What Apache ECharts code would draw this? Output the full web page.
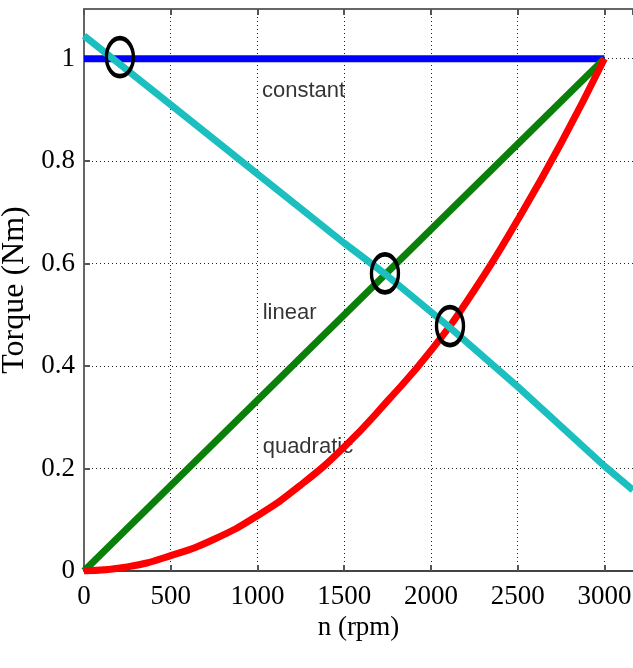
<!DOCTYPE html>
<html><head><meta charset="utf-8">
<script src="https://cdn.jsdelivr.net/npm/echarts@6/dist/echarts.min.js"></script>
<style>html,body{margin:0;padding:0;background:#fff}#c{width:633px;height:668px}</style>
</head><body><div id="c"></div>
<script>
// ---- data ----
const xTickStep = 500;
const yTickStep = 0.2;
const constantPts = [[0, 1], [3000, 1]];
const linearPts = [[0, 0], [3000, 1]];
const quadraticPts = [[0, 0], [250, 0.008], [500, 0.03], [750, 0.062], [1000, 0.108], [1250, 0.168],
  [1500, 0.242], [1750, 0.332], [2000, 0.43], [2250, 0.548], [2500, 0.685], [2750, 0.835], [3000, 1.0]];
const loadPts = [[0, 1.045], [500, 0.91], [1000, 0.775], [1500, 0.64], [1735, 0.58], [2110, 0.475],
  [2500, 0.36], [3000, 0.205], [3165, 0.158]];
const circlePts = [[207, 1.003], [1735, 0.581], [2110, 0.478]];
const labelNames = ['constant', 'linear', 'quadratic'];
const labelPts = [[1026, 0.937], [1030, 0.503], [1030, 0.242]];

const chart = echarts.init(document.getElementById('c'), null, {renderer: 'canvas'});
const serif = 'Liberation Serif, Times New Roman, serif';
const axisGray = '#555';
const gridDots = {show: true, lineStyle: {color: '#222', width: 1, type: [1, 3]}};

chart.setOption({
  animation: false,
  backgroundColor: '#fff',
  grid: {left: 84, top: 9, right: 0, bottom: 97, containLabel: false, outerBoundsMode: 'none'},
  xAxis: [{
    type: 'value', min: 0, max: 3165, interval: xTickStep, position: 'bottom',
    name: 'n (rpm)', nameLocation: 'middle', nameGap: 32,
    nameTextStyle: {fontFamily: serif, fontSize: 27, color: '#000'},
    axisLine: {show: true, onZero: false, lineStyle: {color: '#444', width: 2}},
    axisTick: {show: true, inside: true, length: 6, lineStyle: {color: axisGray, width: 2}},
    axisLabel: {fontFamily: serif, fontSize: 27, color: '#000', margin: 12, showMaxLabel: false,
      formatter: v => String(v)},
    splitLine: gridDots
  }, {
    type: 'value', min: 0, max: 3165, interval: xTickStep, position: 'top',
    axisLine: {show: true, onZero: false, lineStyle: {color: '#666', width: 2}},
    axisTick: {show: true, inside: true, length: 6, lineStyle: {color: axisGray, width: 2}},
    axisLabel: {show: false}, splitLine: {show: false}
  }],
  yAxis: [{
    type: 'value', min: 0, max: 1.097, interval: yTickStep,
    name: 'Torque (Nm)', nameLocation: 'middle', nameGap: 40,
    nameTextStyle: {fontFamily: serif, fontSize: 32, color: '#000'},
    axisLine: {show: true, onZero: false, lineStyle: {color: '#666', width: 2}},
    axisTick: {show: true, inside: true, length: 6, lineStyle: {color: axisGray, width: 2}},
    axisLabel: {fontFamily: serif, fontSize: 27, color: '#000', margin: 9, showMaxLabel: false,
      formatter: v => String(+v.toFixed(1))},
    splitLine: gridDots
  }],
  series: [
    {type: 'line', data: constantPts, symbol: 'none', lineStyle: {color: '#0000ff', width: 7}, z: 2},
    {type: 'line', data: linearPts, symbol: 'none', lineStyle: {color: '#0a800a', width: 7}, z: 3},
    {type: 'line', data: quadraticPts, symbol: 'none', smooth: 0.5,
      lineStyle: {color: '#ff0000', width: 7}, z: 8},
    {type: 'line', data: loadPts, symbol: 'none', lineStyle: {color: '#1cbfbf', width: 7}, z: 9},
    {type: 'scatter', data: circlePts, symbol: 'circle', symbolSize: [27, 38],
      itemStyle: {color: 'rgba(0,0,0,0)', borderColor: '#000', borderWidth: 4, opacity: 1}, z: 10, silent: true},
    {type: 'scatter', symbolSize: 1, itemStyle: {color: 'rgba(0,0,0,0)'}, z: 7, silent: true,
      data: labelNames.map((n, i) => ({name: n, value: labelPts[i]})),
      label: {show: true, position: 'inside', align: 'left', verticalAlign: 'middle',
        formatter: p => p.name, fontFamily: 'Liberation Sans, Arial, sans-serif', fontSize: 22, color: '#000'}}
  ]
});
</script></body></html>
